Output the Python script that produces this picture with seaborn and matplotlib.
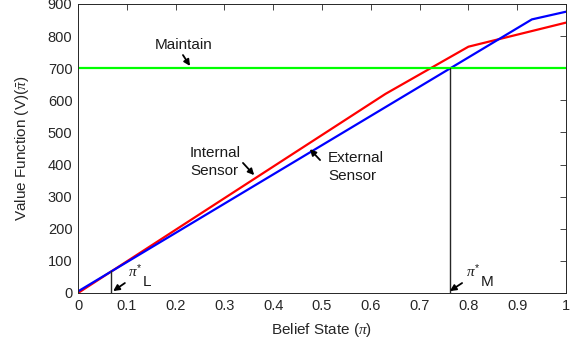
import numpy as np
import pandas as pd
import matplotlib
matplotlib.use('Agg')
import matplotlib.pyplot as plt
import seaborn as sns

# belief state breakpoints and value function for each sensor
internal_x = [0.0, 0.63, 0.80, 1.0]
internal_v = [0.0, 620, 767, 842]
external_x = [0.0, 0.93, 1.0]
external_v = [5.0, 852, 876]
maintain_v = 700

pi_L, pi_L_v = 0.068, 67
pi_M, pi_M_v = 0.762, 700

sns.set_theme(style='white')
plt.rcParams['font.family'] = ['Liberation Sans', 'DejaVu Sans']
plt.rcParams['mathtext.fontset'] = 'custom'
plt.rcParams['mathtext.rm'] = 'Liberation Sans'
plt.rcParams['mathtext.it'] = 'Liberation Serif:italic'
plt.rcParams['mathtext.bf'] = 'Liberation Sans:bold'

df = pd.concat([
    pd.DataFrame({'pi': internal_x, 'V': internal_v, 'sensor': 'Internal'}),
    pd.DataFrame({'pi': external_x, 'V': external_v, 'sensor': 'External'}),
])

fig = plt.figure(figsize=(5.75, 3.53), dpi=100)
ax = fig.add_axes([0.1357, 0.170, 0.8487, 0.8187])

sns.lineplot(data=df, x='pi', y='V', hue='sensor', palette={'Internal': '#ff0000', 'External': '#0000ff'},
             sort=False, estimator=None, lw=1.6, legend=False, ax=ax)
ax.axhline(maintain_v, color='#00ff00', lw=1.6)
ax.plot([pi_L, pi_L], [0, pi_L_v], color='#262626', lw=1)
ax.plot([pi_M, pi_M], [0, pi_M_v], color='#262626', lw=1)

ax.set_xlim(0, 1)
ax.set_ylim(0, 900)
ax.set_xticks(np.arange(0, 1.01, 0.1))
ax.set_xticklabels(['0', '0.1', '0.2', '0.3', '0.4', '0.5', '0.6', '0.7', '0.8', '0.9', '1'])
ax.set_yticks(np.arange(0, 901, 100))
ax.tick_params(direction='in', top=True, right=True, length=4, width=0.6, labelsize=10.5,
               colors='#262626', pad=4)
for s in ax.spines.values():
    s.set_color('#262626')
    s.set_linewidth(0.7)

ax.set_xlabel(r'Belief State ($\pi$)', fontsize=11, color='#262626', labelpad=6)
ax.set_ylabel(r'Value Function (V)($\bar{\pi}$)', fontsize=11, color='#262626', labelpad=12)

arrow = dict(arrowstyle='-|>', color='black', lw=1.3, mutation_scale=9, shrinkA=0, shrinkB=0)

def callout(label, tip, tail, pos, ha='left'):
    ax.annotate('', xy=tip, xytext=tail, arrowprops=arrow)
    ax.text(pos[0], pos[1], label, fontsize=11, ha=ha, va='center', color='#1a1a1a', linespacing=1.4)

callout('Maintain', (0.2295, 707), (0.215, 741), (0.158, 772))
callout('Internal\nSensor', (0.361, 367), (0.338, 405), (0.2295, 408))
callout('External\nSensor', (0.475, 448), (0.496, 414), (0.512, 392))

# threshold labels: pi* with a separate subscript letter
for tip, tail, px, sub in [((0.072, 6), (0.096, 31), 0.1025, 'L'), ((0.762, 6), (0.787, 31), 0.795, 'M')]:
    ax.annotate('', xy=tip, xytext=tail, arrowprops=arrow)
    ax.text(px, 68, r'$\pi^{*}$', fontsize=11, ha='left', va='center', color='#1a1a1a')
    ax.text(px + 0.03, 34, sub, fontsize=11, ha='left', va='center', color='#1a1a1a')

fig.savefig('out.png', dpi=100)
